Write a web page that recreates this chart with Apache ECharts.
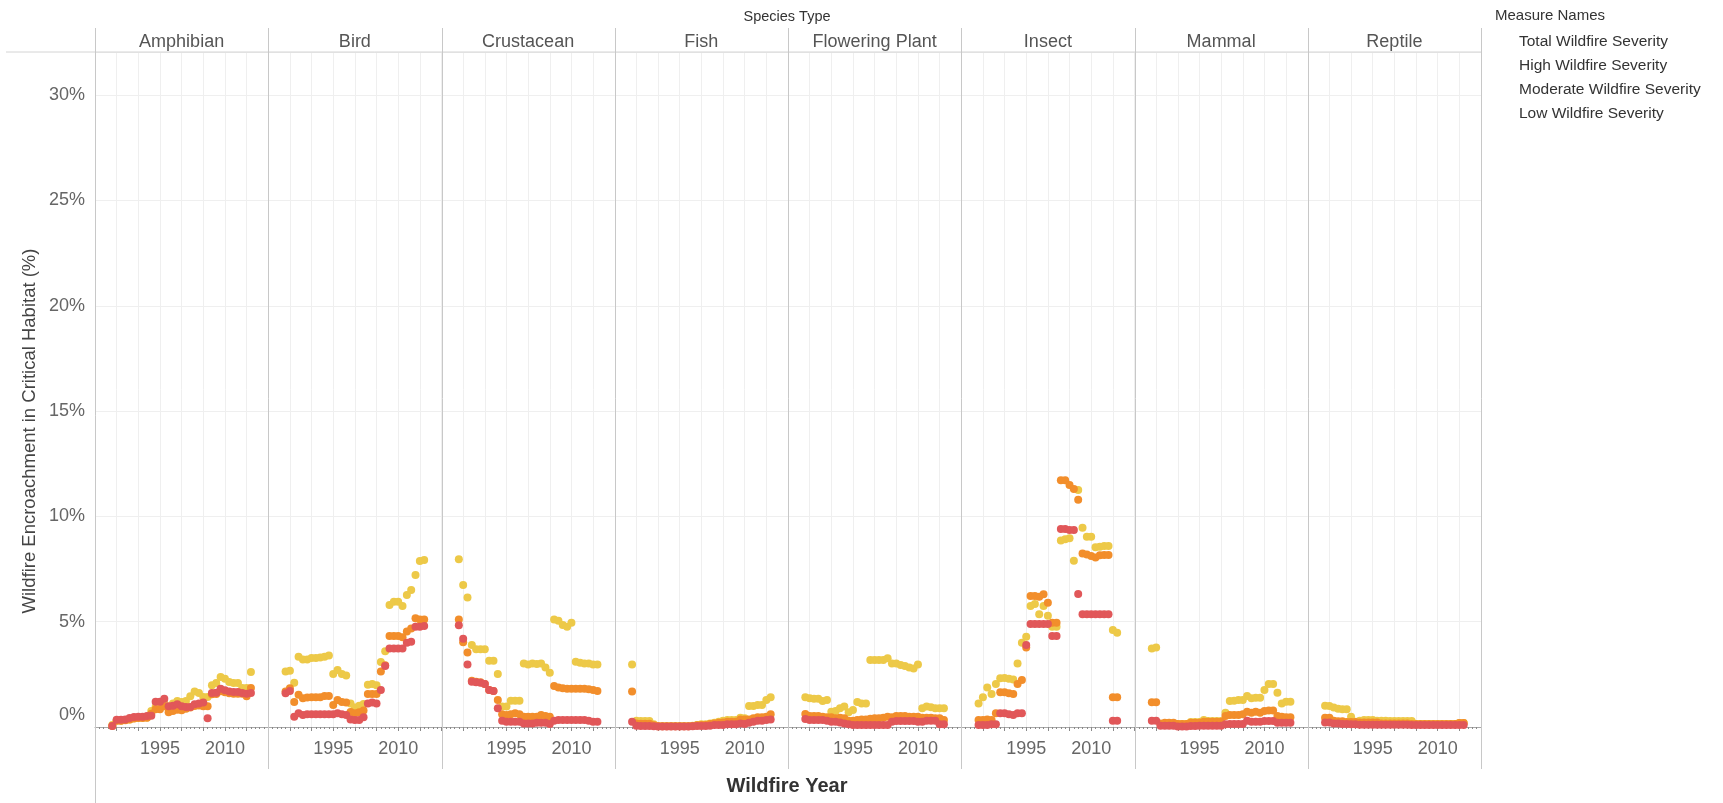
<!DOCTYPE html>
<html>
<head>
<meta charset="utf-8">
<script src="https://cdn.jsdelivr.net/npm/echarts@6/dist/echarts.min.js"></script>
<style>
html,body{margin:0;padding:0;background:#fff;}
#chart{width:1723px;height:803px;}
</style>
</head>
<body>
<div id="chart"></div>
<script>
// ---------------- DATA ----------------
const YEARS = [1984,1985,1986,1987,1988,1989,1990,1991,1992,1993,1994,1995,1996,1997,1998,1999,2000,2001,2002,2003,2004,2005,2006,2007,2008,2009,2010,2011,2012,2013,2014,2015,2016];
const SPECIES = ['Amphibian','Bird','Crustacean','Fish','Flowering Plant','Insect','Mammal','Reptile'];
const MEASURES = ['Total Wildfire Severity','High Wildfire Severity','Moderate Wildfire Severity','Low Wildfire Severity'];
const X_TICK_LABELS = [1995, 2010];
const Y_TICK_LABELS = [0, 5, 10, 15, 20, 25, 30];

// values in % (yellow = Total, orange = Moderate, red = High)
const AMPHIBIAN_TOTAL = [0.10,0.30,0.30,0.33,0.36,0.42,0.44,0.44,0.45,0.76,0.95,0.95,1.11,0.87,1.11,1.23,1.19,1.23,1.46,1.68,1.61,1.42,1.42,1.98,2.09,2.37,2.29,2.14,2.09,2.09,1.85,1.85,2.61];
const AMPHIBIAN_MODERATE = [0.05,0.30,0.30,0.32,0.36,0.40,0.43,0.43,0.44,0.63,0.84,0.84,0.98,0.70,0.76,0.82,0.79,0.87,0.93,1.00,1.02,0.98,0.98,1.55,1.57,1.70,1.65,1.60,1.58,1.58,1.58,1.46,1.85];
const AMPHIBIAN_HIGH = [0.05,0.35,0.35,0.36,0.43,0.47,0.49,0.49,0.52,0.54,1.20,1.20,1.34,0.98,1.01,1.08,0.98,0.95,0.95,1.08,1.11,1.16,0.41,1.61,1.63,1.82,1.74,1.69,1.66,1.66,1.61,1.58,1.61];

const BIRD_TOTAL = [2.63,2.67,2.10,3.34,3.21,3.21,3.28,3.28,3.30,3.34,3.39,2.52,2.71,2.52,2.45,1.12,0.92,1.01,1.09,2.01,2.04,1.98,3.09,3.60,5.79,5.95,5.95,5.74,6.27,6.50,7.22,7.88,7.93];
const BIRD_MODERATE = [1.68,1.84,1.19,1.53,1.36,1.40,1.41,1.41,1.41,1.47,1.47,1.04,1.28,1.19,1.16,0.71,0.65,0.70,0.78,1.57,1.57,1.57,2.63,2.93,4.32,4.32,4.32,4.26,4.53,4.68,5.16,5.11,5.11];
const BIRD_HIGH = [1.60,1.71,0.49,0.65,0.57,0.60,0.60,0.60,0.60,0.60,0.60,0.60,0.65,0.60,0.57,0.36,0.33,0.33,0.46,1.12,1.16,1.12,1.76,2.90,3.73,3.73,3.73,3.73,4.00,4.05,4.76,4.76,4.79];

const CRUSTACEAN_TOTAL = [7.96,6.74,6.15,3.89,3.69,3.69,3.69,3.15,3.15,2.52,0.97,0.97,1.25,1.25,1.25,3.02,2.97,3.02,2.99,3.02,2.83,2.58,5.11,5.05,4.84,4.76,4.95,3.10,3.05,3.02,3.02,2.97,2.97];
const CRUSTACEAN_MODERATE = [5.11,4.02,3.54,2.20,2.15,2.12,2.04,1.76,1.71,1.28,0.60,0.57,0.60,0.65,0.60,0.49,0.49,0.49,0.49,0.57,0.52,0.49,1.95,1.88,1.84,1.82,1.82,1.82,1.82,1.82,1.79,1.76,1.71];
const CRUSTACEAN_HIGH = [4.83,4.19,2.97,2.15,2.12,2.10,2.04,1.76,1.71,0.89,0.30,0.25,0.25,0.25,0.25,0.17,0.17,0.17,0.20,0.20,0.20,0.14,0.30,0.33,0.33,0.33,0.33,0.33,0.33,0.33,0.30,0.25,0.25];

const FISH_TOTAL = [2.97,0.30,0.28,0.28,0.28,0.13,0.05,0.05,0.05,0.05,0.05,0.05,0.05,0.05,0.06,0.10,0.13,0.13,0.17,0.20,0.25,0.30,0.33,0.33,0.33,0.44,0.41,1.00,1.00,1.04,1.04,1.28,1.41];
const FISH_MODERATE = [1.69,0.17,0.15,0.15,0.15,0.08,0.03,0.03,0.03,0.03,0.03,0.03,0.03,0.03,0.05,0.08,0.10,0.10,0.14,0.17,0.20,0.21,0.25,0.25,0.25,0.36,0.36,0.36,0.41,0.46,0.46,0.49,0.60];
const FISH_HIGH = [0.25,0.06,0.05,0.05,0.05,0.03,0.02,0.02,0.02,0.02,0.02,0.02,0.02,0.02,0.03,0.05,0.05,0.05,0.06,0.10,0.10,0.10,0.13,0.13,0.13,0.17,0.14,0.20,0.25,0.30,0.30,0.33,0.36];

const FLOWERING_TOTAL = [1.41,1.36,1.34,1.34,1.23,1.28,0.73,0.76,0.89,0.97,0.70,0.81,1.19,1.12,1.12,3.18,3.18,3.18,3.18,3.26,3.02,3.02,2.94,2.90,2.83,2.78,2.97,0.89,0.97,0.94,0.89,0.89,0.89];
const FLOWERING_MODERATE = [0.62,0.52,0.52,0.52,0.49,0.46,0.46,0.41,0.44,0.41,0.30,0.30,0.33,0.36,0.36,0.39,0.41,0.41,0.44,0.49,0.46,0.52,0.52,0.52,0.49,0.49,0.49,0.44,0.44,0.44,0.41,0.41,0.33];
const FLOWERING_HIGH = [0.38,0.33,0.33,0.33,0.33,0.30,0.25,0.25,0.21,0.17,0.13,0.10,0.10,0.10,0.10,0.10,0.10,0.10,0.10,0.10,0.25,0.28,0.28,0.28,0.28,0.28,0.25,0.25,0.30,0.30,0.30,0.13,0.13];

const INSECT_TOTAL = [1.12,1.41,1.87,1.57,2.04,2.31,2.33,2.29,2.26,3.02,4.00,4.29,5.74,5.84,5.35,5.74,5.28,4.76,4.76,8.85,8.91,8.96,7.90,11.25,9.46,9.03,9.03,8.53,8.56,8.59,8.59,4.60,4.48];
const INSECT_MODERATE = [0.33,0.33,0.36,0.33,0.65,1.65,1.65,1.60,1.57,2.04,2.23,3.78,6.22,6.22,6.19,6.30,5.90,4.95,4.95,11.72,11.72,11.49,11.30,10.79,8.24,8.19,8.12,8.05,8.15,8.17,8.17,1.41,1.41];
const INSECT_HIGH = [0.10,0.10,0.10,0.13,0.13,0.65,0.65,0.60,0.57,0.65,0.65,3.89,4.89,4.89,4.89,4.89,4.89,4.32,4.32,9.40,9.40,9.35,9.35,6.31,5.35,5.35,5.35,5.35,5.35,5.35,5.35,0.30,0.30];

const MAMMAL_TOTAL = [3.73,3.78,0.14,0.16,0.16,0.16,0.14,0.14,0.14,0.24,0.24,0.24,0.33,0.28,0.28,0.28,0.28,0.68,1.23,1.25,1.28,1.28,1.47,1.36,1.39,1.39,1.76,2.04,2.04,1.63,1.12,1.20,1.20];
const MAMMAL_MODERATE = [1.17,1.17,0.17,0.20,0.20,0.20,0.14,0.14,0.14,0.20,0.20,0.20,0.25,0.25,0.25,0.25,0.25,0.52,0.57,0.57,0.57,0.60,0.73,0.68,0.73,0.68,0.76,0.78,0.78,0.52,0.49,0.46,0.46];
const MAMMAL_HIGH = [0.30,0.30,0.06,0.06,0.06,0.06,0.02,0.02,0.02,0.05,0.05,0.06,0.06,0.06,0.06,0.06,0.06,0.13,0.14,0.14,0.14,0.14,0.30,0.25,0.25,0.25,0.28,0.28,0.28,0.20,0.20,0.20,0.20];

const REPTILE_TOTAL = [1.01,1.00,0.92,0.87,0.84,0.84,0.49,0.25,0.30,0.33,0.33,0.33,0.30,0.30,0.30,0.28,0.28,0.28,0.28,0.28,0.28,0.14,0.14,0.14,0.14,0.14,0.14,0.14,0.14,0.14,0.14,0.19,0.19];
const REPTILE_MODERATE = [0.44,0.44,0.30,0.27,0.27,0.24,0.24,0.24,0.21,0.21,0.21,0.21,0.21,0.17,0.17,0.17,0.17,0.17,0.17,0.17,0.14,0.14,0.14,0.14,0.14,0.14,0.14,0.14,0.14,0.14,0.14,0.19,0.19];
const REPTILE_HIGH = [0.21,0.21,0.17,0.17,0.14,0.14,0.13,0.13,0.11,0.11,0.11,0.11,0.11,0.11,0.11,0.11,0.11,0.11,0.11,0.11,0.10,0.10,0.10,0.10,0.10,0.10,0.10,0.10,0.10,0.10,0.10,0.10,0.10];

const PANEL_TOTAL = [AMPHIBIAN_TOTAL,BIRD_TOTAL,CRUSTACEAN_TOTAL,FISH_TOTAL,FLOWERING_TOTAL,INSECT_TOTAL,MAMMAL_TOTAL,REPTILE_TOTAL];
const PANEL_MODERATE = [AMPHIBIAN_MODERATE,BIRD_MODERATE,CRUSTACEAN_MODERATE,FISH_MODERATE,FLOWERING_MODERATE,INSECT_MODERATE,MAMMAL_MODERATE,REPTILE_MODERATE];
const PANEL_HIGH = [AMPHIBIAN_HIGH,BIRD_HIGH,CRUSTACEAN_HIGH,FISH_HIGH,FLOWERING_HIGH,INSECT_HIGH,MAMMAL_HIGH,REPTILE_HIGH];

// ---------------- LAYOUT ----------------
const FONT = '"Liberation Sans", Arial, sans-serif';
const LEFT0 = 95, PW = 173.25, TOP = 52, BOTTOM = 727, HEADER_TOP = 28;
const RIGHT = LEFT0 + PW * SPECIES.length;
const COLORS = {total:'#EDC948', moderate:'#F28E2B', high:'#E15759'};

const chart = echarts.init(document.getElementById('chart'), null, {renderer:'canvas'});

const grids = [], xAxes = [], yAxes = [], series = [], titles = [];
SPECIES.forEach((sp, i) => {
  const left = LEFT0 + i * PW;
  grids.push({left: left, top: TOP, width: PW, height: BOTTOM - TOP, containLabel: false});
  xAxes.push({
    type:'value', gridIndex:i, min:1980, max:2020, interval:5,
    axisLine:{show:true, onZero:false, lineStyle:{color:'#a8a8a8', width:1}},
    axisTick:{show:true, length:4, lineStyle:{color:'#8a8a8a'}},
    minorTick:{show:true, splitNumber:5, length:2, lineStyle:{color:'#8a8a8a'}},
    splitLine:{show:true, lineStyle:{color:'#efefef', width:1}},
    axisLabel:{show:true, margin:13, fontFamily:FONT, fontSize:18, color:'#666',
      formatter: v => X_TICK_LABELS.indexOf(v) >= 0 ? String(v) : ''}
  });
  yAxes.push({
    type:'value', gridIndex:i, min:0, max:(BOTTOM - TOP) / 21.06, interval:5,
    axisLine:{show:false}, axisTick:{show:false},
    splitLine:{show:true, lineStyle:{color:'#efefef', width:1}},
    axisLabel:{show: i === 0, margin:10, fontFamily:FONT, fontSize:18, color:'#666',
      formatter: v => {
        if (Y_TICK_LABELS.indexOf(v) < 0) return '';
        return v === 0 ? '{z|0%}' : v + '%';
      },
      rich:{z:{fontFamily:FONT, fontSize:18, color:'#666', padding:[0,0,24,0]}}
    }
  });
  titles.push({text: sp, left: left + PW / 2, top: 33, textAlign:'center', padding:0,
    textStyle:{fontFamily:FONT, fontSize:18, fontWeight:'normal', color:'#555'}});
  const mk = arr => YEARS.map((y, k) => [y, arr[k]]);
  const common = {type:'scatter', xAxisIndex:i, yAxisIndex:i, symbolSize:8, silent:true};
  series.push(Object.assign({}, common, {name:MEASURES[0], data:mk(PANEL_TOTAL[i]), itemStyle:{color:COLORS.total, opacity:1}, z:2}));
  series.push(Object.assign({}, common, {name:MEASURES[2], data:mk(PANEL_MODERATE[i]), itemStyle:{color:COLORS.moderate, opacity:1}, z:3}));
  series.push(Object.assign({}, common, {name:MEASURES[1], data:mk(PANEL_HIGH[i]), itemStyle:{color:COLORS.high, opacity:1}, z:4}));
});
series.push({type:'scatter', name:MEASURES[3], xAxisIndex:0, yAxisIndex:0, data:[], itemStyle:{color:'#ffffff'}});

const graphics = [];
graphics.push({type:'line', shape:{x1:6, y1:TOP, x2:RIGHT, y2:TOP}, style:{stroke:'#d4d4d4', lineWidth:1}, z:10});
for (let i = 0; i <= SPECIES.length; i++) {
  const x = Math.round(LEFT0 + i * PW) + 0.5;
  graphics.push({type:'line', shape:{x1:x, y1:HEADER_TOP, x2:x, y2: i === 0 ? 803 : 769}, style:{stroke:'#c8c8c8', lineWidth:1}, z:10});
}
graphics.push({type:'text', x:787, y:17, style:{text:'Species Type', fontFamily:FONT, fontSize:14.5, fill:'#333', align:'center', verticalAlign:'middle'}});
graphics.push({type:'text', x:787, y:786, style:{text:'Wildfire Year', fontFamily:FONT, fontSize:20, fontWeight:'bold', fill:'#333', align:'center', verticalAlign:'middle'}});
graphics.push({type:'text', x:30, y:431, rotation:Math.PI/2, style:{text:'Wildfire Encroachment in Critical Habitat (%)', fontFamily:FONT, fontSize:18.5, fill:'#444', align:'center', verticalAlign:'middle'}});
graphics.push({type:'text', x:1495, y:16, style:{text:'Measure Names', fontFamily:FONT, fontSize:15, fill:'#333', align:'left', verticalAlign:'middle'}});

chart.setOption({
  animation:false,
  backgroundColor:'#fff',
  title: titles,
  grid: grids,
  xAxis: xAxes,
  yAxis: yAxes,
  series: series,
  legend:{orient:'vertical', left:1509, top:28, itemWidth:0, itemHeight:0, itemGap:7, icon:'rect',
    selectedMode:false, data:MEASURES,
    textStyle:{fontFamily:FONT, fontSize:15.5, color:'#333', lineHeight:17}},
  graphic: graphics
});
</script>
</body>
</html>
